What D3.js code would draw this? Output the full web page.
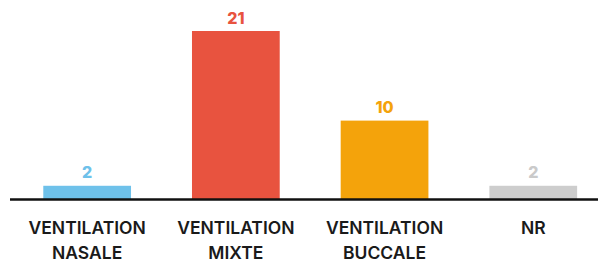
<!DOCTYPE html>
<html>
<head>
<meta charset="utf-8">
<script src="https://cdn.jsdelivr.net/npm/d3@7"></script>
<style>
  body { margin: 0; background: #fff; }
  svg { display: block; }
</style>
</head>
<body>
<div id="chart"></div>
<script>
var categories = ["VENTILATION|NASALE", "VENTILATION|MIXTE", "VENTILATION|BUCCALE", "NR"];
var values = [2, 21, 10, 2];
var colors = ["#6ec1ea", "#e8533f", "#f4a30b", "#cdcdcd"];
var labelColors = ["#6ec1ea", "#e8533f", "#f4a30b", "#cacaca"];

var width = 599, height = 264;
var svg = d3.select("#chart").append("svg").attr("width", width).attr("height", height);

var x = d3.scaleBand().domain(categories).range([12.8, 607.6]).paddingInner(0.41).paddingOuter(0.205);
var y = d3.scaleLinear().domain([0.5, 21]).range([198, 31]);

// bars
svg.append("g").selectAll("rect")
  .data(values).enter()
  .append("rect")
  .attr("x", function(d, i) { return x(categories[i]); })
  .attr("y", function(d) { return y(d); })
  .attr("width", x.bandwidth())
  .attr("height", function(d) { return 199 - y(d); })
  .style("fill", function(d, i) { return colors[i]; });

// value labels
svg.append("g").selectAll("text")
  .data(values).enter()
  .append("text")
  .text(function(d) { return d; })
  .attr("x", function(d, i) { return x(categories[i]) + x.bandwidth() / 2; })
  .attr("y", function(d) { return y(d) - 7.5; })
  .attr("text-anchor", "middle")
  .style("font-family", "Inter, sans-serif").style("font-weight", 800).style("font-size", "16px")
  .style("fill", function(d, i) { return labelColors[i]; });

// baseline
svg.append("line").attr("x1", 10).attr("x2", 598).attr("y1", 199.5).attr("y2", 199.5)
  .style("stroke", "#111").style("stroke-width", 2.5);

// category labels
var lab = svg.append("g").selectAll("text")
  .data(categories).enter()
  .append("text")
  .attr("text-anchor", "middle")
  .attr("transform", function(d) { return "translate(" + (x(d) + x.bandwidth() / 2) + ",234.3)"; })
  .style("font-family", "Inter, sans-serif").style("font-weight", 600).style("font-size", "17.5px")
  .style("fill", "#1a1a1a");
lab.selectAll("tspan")
  .data(function(d) { return d.split("|"); }).enter()
  .append("tspan")
  .attr("x", 0)
  .attr("dy", function(d, i) { return i ? 25 : 0; })
  .text(function(d) { return d; });
</script>
</body>
</html>
